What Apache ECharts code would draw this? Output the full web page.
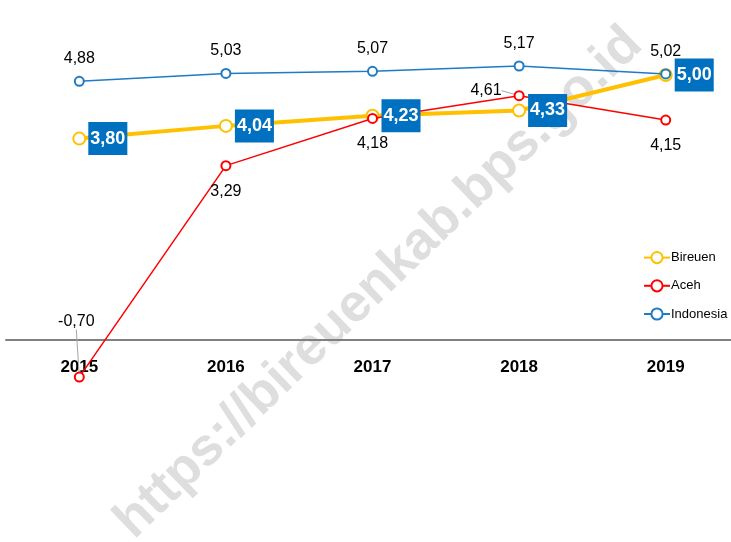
<!DOCTYPE html>
<html>
<head>
<meta charset="utf-8">
<script src="https://cdn.jsdelivr.net/npm/echarts@6/dist/echarts.min.js"></script>
<style>
  html, body { margin: 0; padding: 0; background: #fff; }
  #chart { width: 731px; height: 542px; }
</style>
</head>
<body>
<div id="chart"></div>
<script>
// Economic growth rates (%), 2015-2019
var years = ['2015', '2016', '2017', '2018', '2019'];
var bireuen = [3.80, 4.04, 4.23, 4.33, 5.00];
var aceh = [-0.70, 3.29, 4.18, 4.61, 4.15];
var indonesia = [4.88, 5.03, 5.07, 5.17, 5.02];

var FONT = '"Liberation Sans Narrow", "Arial Narrow", "Liberation Sans", Arial, sans-serif';

function fmt(v) { return v.toFixed(2).replace('.', ','); }

var chart = echarts.init(document.getElementById('chart'), null, { renderer: 'canvas' });

// Aceh: most labels sit below the point; two are moved away with leader lines
var acehData = aceh.map(function (v, i) {
  var item = { value: v };
  if (i === 0) {
    item.label = { position: 'top', distance: 2 };
    item.labelLine = { show: true, lineStyle: { color: '#a6a6a6', width: 1 } };
  } else if (i === 3) {
    item.label = { position: 'left', distance: 12 };
    item.labelLine = { show: true, lineStyle: { color: '#a6a6a6', width: 1 } };
  }
  return item;
});

chart.setOption({
  animation: false,
  backgroundColor: '#ffffff',
  graphic: [{
    type: 'text',
    x: 379, y: 283,
    rotation: Math.PI * 44 / 180,
    z: -10,
    style: {
      text: 'https://bireuenkab.bps.go.id',
      fill: '#dedede',
      font: 'bold 53px "Liberation Sans", Arial, sans-serif',
      align: 'center',
      verticalAlign: 'middle'
    }
  }],
  legend: {
    orient: 'vertical',
    left: 638,
    top: 246,
    itemWidth: 26,
    itemHeight: 14,
    itemGap: 15,
    data: ['Bireuen', 'Aceh', 'Indonesia'],
    textStyle: { fontFamily: FONT, fontSize: 13, color: '#000', padding: [0, 0, 0, -4] }
  },
  grid: { left: 6, width: 733, top: 22, bottom: 149, containLabel: false, outerBoundsMode: 'none' },
  xAxis: {
    type: 'category',
    data: years,
    boundaryGap: true,
    axisLine: { onZero: true, lineStyle: { color: '#808080', width: 2 } },
    axisTick: { show: false },
    axisLabel: { fontFamily: FONT, fontSize: 17, fontWeight: 'bold', color: '#000', margin: -34 },
    splitLine: { show: false }
  },
  yAxis: {
    type: 'value',
    min: -1,
    max: 6,
    show: false,
    splitLine: { show: false }
  },
  series: [
    {
      name: 'Bireuen',
      type: 'line',
      data: bireuen,
      color: '#FFC000',
      lineStyle: { color: '#FFC000', width: 4 },
      symbol: 'emptyCircle',
      symbolSize: 12,
      itemStyle: { color: '#FFC000', borderWidth: 2.5 },
      z: 2,
      label: { show: false }
    },
    {
      name: 'Aceh',
      type: 'line',
      data: acehData,
      color: '#FF0000',
      lineStyle: { color: '#FF0000', width: 1.5 },
      symbol: 'emptyCircle',
      symbolSize: 9,
      itemStyle: { color: '#FF0000', borderWidth: 2 },
      z: 3,
      labelLayout: function (p) {
        if (p.dataIndex === 0) { return { dx: -3, dy: -40 }; }
        if (p.dataIndex === 3) { return { dy: -5 }; }
        return {};
      },
      label: {
        show: true,
        position: 'bottom',
        distance: 12,
        fontFamily: FONT,
        fontSize: 16,
        color: '#000',
        formatter: function (p) { return fmt(p.value); }
      }
    },
    {
      name: 'Indonesia',
      type: 'line',
      data: indonesia,
      color: '#1F7BC4',
      lineStyle: { color: '#1F7BC4', width: 1.5 },
      symbol: 'emptyCircle',
      symbolSize: 9,
      itemStyle: { color: '#1F7BC4', borderWidth: 2 },
      z: 4,
      label: {
        show: true,
        position: 'top',
        distance: 9,
        fontFamily: FONT,
        fontSize: 16,
        color: '#000',
        formatter: function (p) { return fmt(p.value); }
      }
    },
    {
      // value boxes for Bireuen, kept above the other lines
      name: 'Bireuen labels',
      type: 'line',
      data: bireuen,
      lineStyle: { width: 0, color: 'rgba(0,0,0,0)' },
      symbol: 'circle',
      symbolSize: 12,
      itemStyle: { color: 'rgba(0,0,0,0)', borderWidth: 0 },
      silent: true,
      z: 10,
      label: {
        show: true,
        position: 'right',
        distance: 3,
        fontFamily: FONT,
        fontSize: 18,
        fontWeight: 'bold',
        color: '#fff',
        backgroundColor: '#0070C0',
        padding: [7, 2, 7, 2],
        lineHeight: 19,
        formatter: function (p) { return fmt(p.value); }
      }
    }
  ]
});
</script>
</body>
</html>
